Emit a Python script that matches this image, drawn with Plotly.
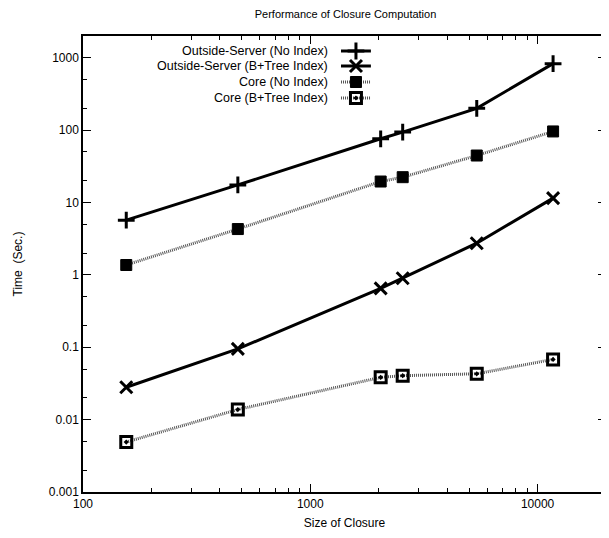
import plotly.graph_objects as go

sizes = [155, 480, 2040, 2550, 5400, 11700]
outside_no_index = [5.7, 17.5, 76, 94, 200, 830]
outside_btree = [0.028, 0.095, 0.65, 0.90, 2.74, 11.5]
core_no_index = [1.37, 4.3, 19.5, 22.4, 44.6, 96]
core_btree = [0.0049, 0.0138, 0.0384, 0.0405, 0.043, 0.068]

series_names = ["Outside-Server (No Index)", "Outside-Server (B+Tree Index)",
                "Core (No Index)", "Core (B+Tree Index)"]
x_ticks = [100, 1000, 10000]
x_tick_labels = ["100", "1000", "10000"]
x_minor = [m * d for d in (100, 1000) for m in range(2, 10)] + [20000]
y_ticks = [0.001, 0.01, 0.1, 1, 10, 100, 1000]
y_tick_labels = ["0.001", "0.01", "0.1", "1", "10", "100", "1000"]
y_minor = [m * d for d in (0.001, 0.01, 0.1, 1, 10, 100, 1000) for m in (2, 5)]

FONT = "Liberation Sans, Arial, Helvetica, sans-serif"

styles = [
    dict(line=dict(color="black", width=3),
         marker=dict(symbol="cross-thin", size=12, line=dict(color="black", width=3))),
    dict(line=dict(color="black", width=3),
         marker=dict(symbol="x-thin", size=12, line=dict(color="black", width=3))),
    dict(line=dict(color="#555555", width=3, dash="1px,1px"),
         marker=dict(symbol="square", size=11, color="black", line=dict(color="black", width=1))),
    dict(line=dict(color="#555555", width=3, dash="1px,1px"),
         marker=dict(symbol="square-open-dot", size=11, color="black", line=dict(color="black", width=3))),
]
data = [outside_no_index, outside_btree, core_no_index, core_btree]

fig = go.Figure()
for name, ys, st in zip(series_names, data, styles):
    fig.add_trace(go.Scatter(x=sizes, y=ys, mode="lines+markers", name=name,
                             line=st["line"], marker=st["marker"], showlegend=False))

# page offset of the figure (body margin) and target plot-area edges in page pixels
OFF = 8
W, H = 609 - OFF, 538 - OFF
L, R, T, B = 83, 608, 36, 492

def px(x):
    return (x - L) / (R - L)
def py(y):
    return (B - y) / (B - T)

rows = [51, 66, 82, 98]
for name, st, ry in zip(series_names, styles, rows):
    fig.add_trace(go.Scatter(x=[px(342), px(372)], y=[py(ry), py(ry)], mode="lines",
                             line=st["line"], xaxis="x2", yaxis="y2", showlegend=False,
                             hoverinfo="skip"))
    fig.add_trace(go.Scatter(x=[px(357)], y=[py(ry)], mode="markers",
                             marker=st["marker"], xaxis="x2", yaxis="y2", showlegend=False,
                             hoverinfo="skip"))
    fig.add_annotation(x=px(331), y=py(ry), xref="x2", yref="y2", text=name,
                       showarrow=False, xanchor="right", yanchor="middle",
                       font=dict(family=FONT, size=12.5, color="black"))

axis_common = dict(showgrid=False, zeroline=False, showline=True, linecolor="black",
                   linewidth=1.5, mirror="ticks", ticks="inside", ticklen=8, tickwidth=1,
                   tickcolor="black", tickfont=dict(family=FONT, size=12, color="black"))

fig.update_layout(
    width=W, height=H,
    margin=dict(l=L - OFF, r=609 - R, t=T - OFF, b=538 - B),
    paper_bgcolor="white", plot_bgcolor="white",
    title=dict(text="Performance of Closure Computation", x=((L + R) / 2 - OFF) / W,
               xanchor="center", y=1 - (14 - OFF) / H, yanchor="middle",
               font=dict(family=FONT, size=11, color="black")),
    xaxis=dict(type="log", range=[2, 4.30103], tickvals=x_ticks, ticktext=x_tick_labels,
               title=dict(text="Size of Closure", font=dict(family=FONT, size=12, color="black"),
                          standoff=8),
               minor=dict(ticks="inside", ticklen=4, tickcolor="black", showgrid=False,
                          tickvals=x_minor),
               **axis_common),
    yaxis=dict(type="log", range=[-3, 3.30103], tickvals=y_ticks, ticktext=y_tick_labels,
               title=dict(text="Time  (Sec.)", font=dict(family=FONT, size=12, color="black"),
                          standoff=24),
               minor=dict(ticks="inside", ticklen=4, tickcolor="black", showgrid=False,
                          tickvals=y_minor),
               **axis_common),
    xaxis2=dict(overlaying="x", range=[0, 1], visible=False, anchor="y2"),
    yaxis2=dict(overlaying="y", range=[0, 1], visible=False, anchor="x2"),
    showlegend=False,
)

fig.write_html("out.html")
